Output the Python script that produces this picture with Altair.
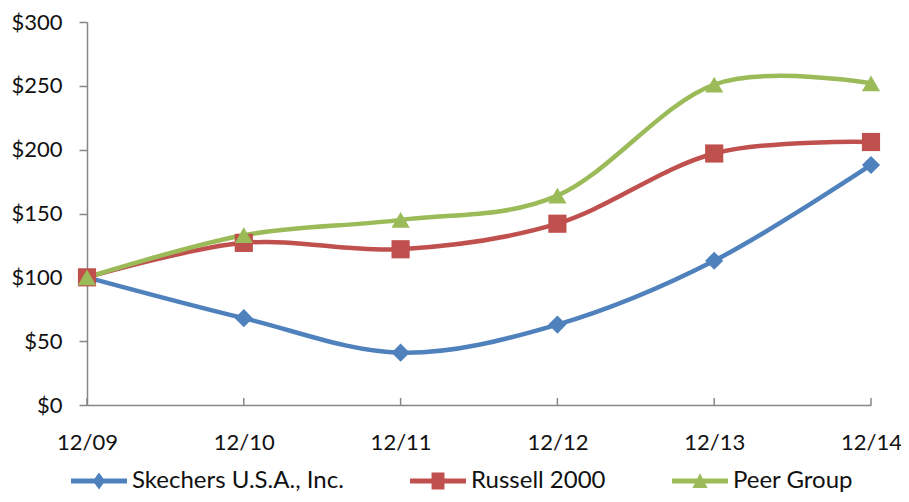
import altair as alt
import pandas as pd

# ---- data ----
dates = ["12/09", "12/10", "12/11", "12/12", "12/13", "12/14"]
series_names = ["Skechers U.S.A., Inc.", "Russell 2000", "Peer Group"]
skechers = [100, 68, 41, 63, 113, 188]
russell = [100, 127, 122, 142, 197, 206]
peer = [100, 133, 145, 164, 251, 252]
y_ticks = [0, 50, 100, 150, 200, 250, 300]

# ---- styles ----
colors = ["#4F81BD", "#C0504D", "#9BBB59"]
marker_shapes = ["diamond", "square", "triangle-up"]
LINE = "M-1,-0.09L1,-0.09L1,0.09L-1,0.09Z "
legend_symbols = [
    LINE + "M0,-0.3L0.22,0L0,0.3L-0.22,0Z",
    LINE + "M-0.23,-0.3L0.23,-0.3L0.23,0.3L-0.23,0.3Z",
    LINE + "M0,-0.28L0.27,0.25L-0.27,0.25Z",
]
FONT = "Lato"
TEXT = "#111111"
AXIS = "#868686"
W, H = 784, 383

rows = []
for name, vals in zip(series_names, [skechers, russell, peer]):
    for d, v in zip(dates, vals):
        rows.append({"date": d, "value": v, "series": name})
df = pd.DataFrame(rows)
tick_df = pd.DataFrame({"date": dates})

x_enc = alt.X(
    "date:O",
    sort=dates,
    scale=alt.Scale(type="point", padding=0),
    axis=alt.Axis(
        title=None, labelAngle=0, ticks=False, labelPadding=27,
        labelFont=FONT, labelFontSize=22, labelColor=TEXT,
        domainColor=AXIS, domainWidth=1.5,
    ),
)
y_enc = alt.Y(
    "value:Q",
    scale=alt.Scale(domain=[0, 300], nice=False, zero=True),
    axis=alt.Axis(
        title=None, values=y_ticks, grid=False, labelExpr="'$' + datum.value",
        tickSize=8, tickColor=AXIS, tickWidth=1.5, labelPadding=17,
        labelFont=FONT, labelFontSize=22, labelColor=TEXT,
        domainColor=AXIS, domainWidth=1.5,
    ),
)
color_scale = alt.Scale(domain=series_names, range=colors)

lines = alt.Chart(df).mark_line(interpolate="cardinal", strokeWidth=4.5).encode(
    x=x_enc, y=y_enc,
    color=alt.Color("series:N", scale=color_scale, legend=None),
)

points = alt.Chart(df).mark_point(filled=True, opacity=1, size=330).encode(
    x=x_enc, y=y_enc,
    color=alt.Color("series:N", scale=color_scale, legend=None),
    shape=alt.Shape("series:N", scale=alt.Scale(domain=series_names, range=marker_shapes), legend=None),
)

xticks = alt.Chart(tick_df).mark_rule(color=AXIS, strokeWidth=1.5).encode(
    x=x_enc,
    y=alt.value(H - 7),
    y2=alt.value(H),
)

legend_layer = alt.Chart(df).transform_filter("false").mark_point(filled=True, opacity=1).encode(
    color=alt.Color(
        "series:N", scale=color_scale, title=None,
        legend=alt.Legend(
            orient="none", direction="horizontal", legendX=-16, legendY=431,
            symbolSize=3136, labelOffset=5, columnPadding=66, labelLimit=500,
            labelFont=FONT, labelFontSize=24, labelColor=TEXT,
            symbolStrokeWidth=0, title=None,
        ),
    ),
    shape=alt.Shape("series:N", scale=alt.Scale(domain=series_names, range=legend_symbols), title=None),
)

chart = (
    alt.layer(lines, points, xticks, legend_layer)
    .resolve_scale(color="independent", shape="independent")
    .properties(
        width=W, height=H,
        padding={"left": 79, "top": 14, "right": 30, "bottom": 89},
        autosize=alt.AutoSizeParams(type="none"),
    )
    .configure_view(stroke=None)
)

chart.save("out.html", embed_options={"renderer": "svg", "actions": False})
